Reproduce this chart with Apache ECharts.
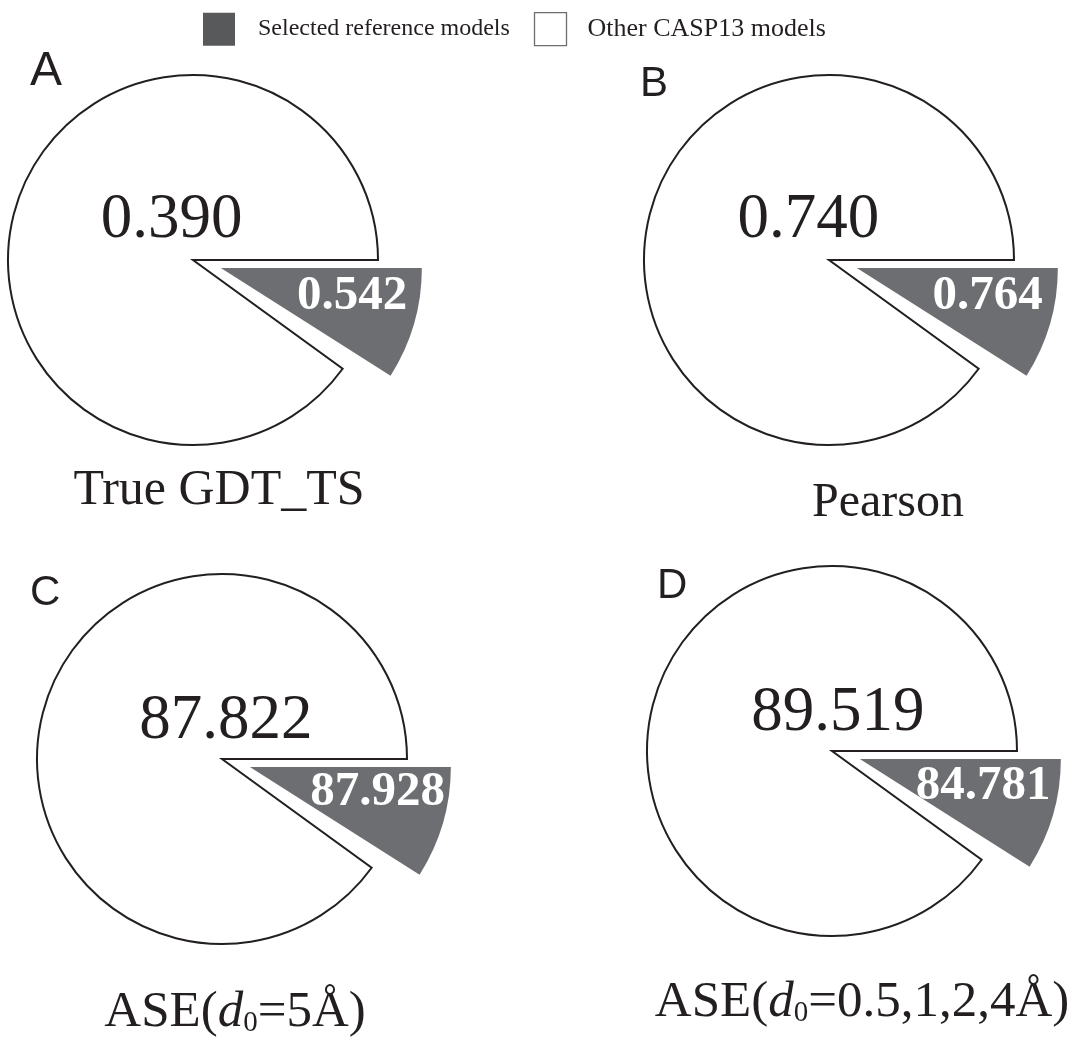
<!DOCTYPE html>
<html>
<head>
<meta charset="utf-8">
<script src="https://cdn.jsdelivr.net/npm/echarts@6/dist/echarts.min.js"></script>
<style>
html,body{margin:0;padding:0;background:#ffffff;}
#chart{width:1085px;height:1041px;}
</style>
</head>
<body>
<div id="chart"></div>
<script>
// ---- data ----
const panelLetters = ['A', 'B', 'C', 'D'];
const metricLabels = [
  'True GDT_TS',
  'Pearson',
  '{n|ASE(}{i|d}{s|0}{n|=5Å)}',
  '{n|ASE(}{i|d}{s|0}{n|=0.5,1,2,4Å)}'
];
const otherValues = [0.390, 0.740, 87.822, 89.519];
const selectedValues = [0.542, 0.764, 87.928, 84.781];
const otherShare = [90, 90, 90, 90];     // % of circle covered by the white slice
const selectedShare = [9, 9, 9, 9];      // % of circle covered by the grey wedge
const legendNames = ['Selected reference models', 'Other CASP13 models'];

// ---- layout (pixel positions) ----
const layout = [
  { center: [193, 260], otherLabel: [171.5, 220], selLabel: [352, 296], letter: [30, 48, 48], title: [219, 466, 50] },
  { center: [829, 260], otherLabel: [808.3, 220.5], selLabel: [987.5, 296.5], letter: [640, 63, 42], title: [888, 479.8, 48] },
  { center: [222, 759], otherLabel: [225.8, 721.7], selLabel: [377.5, 792.8], letter: [30, 572, 42], title: [235, 987, 51] },
  { center: [832, 751], otherLabel: [837.8, 713.8], selLabel: [983, 786], letter: [657, 565, 42], title: [862, 977, 51] }
];
const explode = 29; // px the grey wedge is pulled out along its mid-angle

const SERIF = "'Liberation Serif','Times New Roman',serif";
const SANS = "'Liberation Sans',Arial,Helvetica,sans-serif";
const INK = '#231f20';
const GREY = '#6d6e71';
const TRANSPARENT = 'rgba(0,0,0,0)';

const series = [];
const titles = [];

panelLetters.forEach(function (letter, i) {
  const L = layout[i];
  const mid = (selectedShare[i] / 100) * Math.PI; // half of wedge angle, radians (clockwise from 3 o'clock)
  const greyCenter = [L.center[0] + explode * Math.cos(mid), L.center[1] + explode * Math.sin(mid)];
  // white slice: "Other CASP13 models"
  series.push({
    type: 'pie',
    center: L.center,
    radius: 185,
    startAngle: 0,
    clockwise: true,
    animation: false,
    silent: true,
    avoidLabelOverlap: false,
    emphasis: { disabled: true },
    labelLine: { show: false },
    label: {
      show: true,
      position: 'inside',
      formatter: function () { return otherValues[i].toFixed(3); },
      fontFamily: SERIF,
      fontSize: 63,
      color: INK
    },
    labelLayout: { x: L.otherLabel[0], y: L.otherLabel[1], align: 'center', verticalAlign: 'middle' },
    itemStyle: { borderColor: INK, borderWidth: 2, borderJoin: 'miter', borderMiterLimit: 20 },
    data: [
      { name: 'gap' + i, value: 100 - otherShare[i], itemStyle: { color: TRANSPARENT, borderWidth: 0 }, label: { show: false } },
      { name: legendNames[1], value: otherShare[i], itemStyle: { color: '#ffffff' } }
    ]
  });
  // grey exploded wedge: "Selected reference models"
  series.push({
    type: 'pie',
    center: greyCenter,
    radius: 201,
    startAngle: 0,
    clockwise: true,
    animation: false,
    silent: true,
    avoidLabelOverlap: false,
    selectedMode: false,
    emphasis: { disabled: true },
    labelLine: { show: false },
    label: {
      show: true,
      position: 'inside',
      formatter: function () { return selectedValues[i].toFixed(3); },
      fontFamily: SERIF,
      fontWeight: 'bold',
      fontSize: 49,
      color: '#ffffff'
    },
    labelLayout: { x: L.selLabel[0], y: L.selLabel[1], align: 'center', verticalAlign: 'middle' },
    itemStyle: { borderWidth: 0 },
    data: [
      { name: legendNames[0], value: selectedShare[i], itemStyle: { color: GREY } },
      { name: 'rest' + i, value: 100 - selectedShare[i], itemStyle: { color: TRANSPARENT }, label: { show: false } }
    ]
  });
  // panel letter
  titles.push({
    text: letter,
    left: L.letter[0],
    top: L.letter[1],
    padding: 0,
    textStyle: { fontFamily: SANS, fontSize: L.letter[2], fontWeight: 'normal', color: INK }
  });
  // metric name
  const fs = L.title[2];
  titles.push({
    text: metricLabels[i],
    left: L.title[0],
    top: L.title[1],
    textAlign: 'center',
    padding: 0,
    textStyle: {
      fontFamily: SERIF, fontSize: fs, fontWeight: 'normal', color: INK, lineHeight: fs,
      rich: {
        n: { fontFamily: SERIF, fontSize: fs, color: INK, lineHeight: fs },
        i: { fontFamily: SERIF, fontSize: fs, fontStyle: 'italic', color: INK, lineHeight: fs },
        s: { fontFamily: SERIF, fontSize: Math.round(fs * 0.56), color: INK, lineHeight: Math.round(fs * 0.62), verticalAlign: 'bottom' }
      }
    }
  });
});

const chart = echarts.init(document.getElementById('chart'), null, { renderer: 'canvas' });
chart.setOption({
  backgroundColor: '#ffffff',
  animation: false,
  title: titles,
  legend: {
    left: 203,
    top: 12,
    padding: 0,
    icon: 'rect',
    itemWidth: 32,
    itemHeight: 33,
    itemGap: 24,
    selectedMode: false,
    textStyle: { fontFamily: SERIF, fontSize: 24, color: INK, padding: [0, 0, 0, 18] },
    data: [
      { name: legendNames[0], itemStyle: { color: '#58595b', borderWidth: 0 } },
      { name: legendNames[1], itemStyle: { color: '#ffffff', borderColor: '#6d6e71', borderWidth: 1.3 },
        textStyle: { fontFamily: SERIF, fontSize: 26, color: INK, padding: [0, 0, 0, 16] } }
    ]
  },
  series: series
});
</script>
</body>
</html>
